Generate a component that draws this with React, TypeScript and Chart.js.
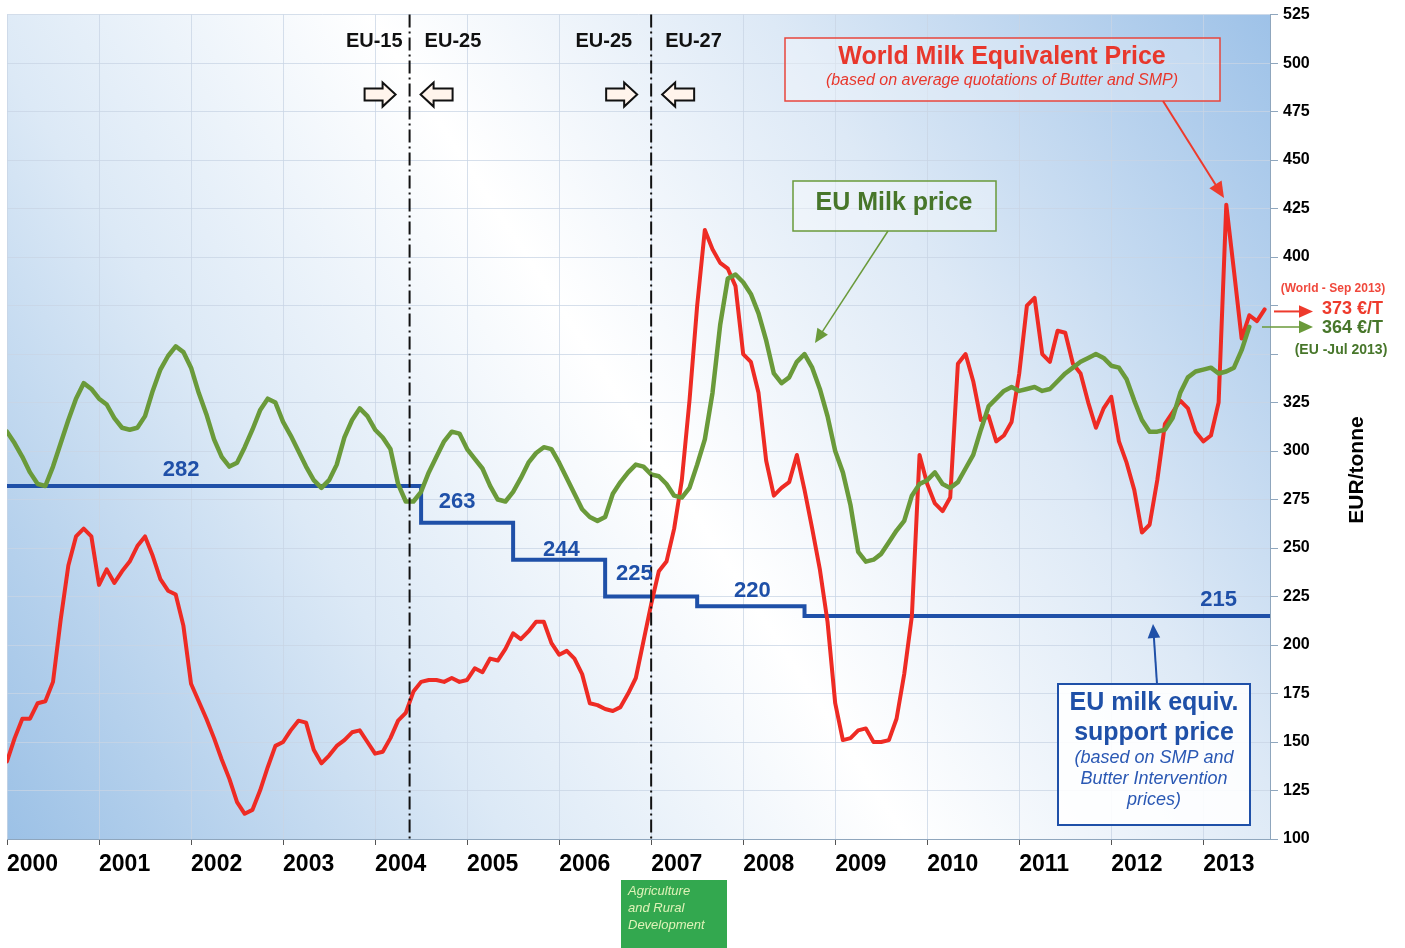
import React, { useEffect, useRef } from "react";
import { Chart, registerables } from "chart.js";

Chart.register(...registerables);

// ---------- DATA ----------
const YEARS = ["2000", "2001", "2002", "2003", "2004", "2005", "2006", "2007", "2008", "2009", "2010", "2011", "2012", "2013"];

// World Milk Equivalent Price, EUR/tonne, monthly from Jan 2000 to Sep 2013
const WORLD_PRICE = [
  140, 152, 162, 162, 170, 171, 181, 213, 241, 256, 260, 256,
  231, 239, 232, 238, 243, 251, 256, 246, 234, 228, 226, 210,
  180, 171, 162, 152, 141, 131, 119, 113, 115, 125, 137, 148,
  150, 156, 161, 160, 146, 139, 143, 148, 151, 155, 156, 150,
  144, 145, 152, 161, 165, 176, 181, 182, 182, 181, 183, 181,
  182, 188, 186, 193, 192, 198, 206, 203, 207, 212, 212, 201,
  195, 197, 193, 185, 170, 169, 167, 166, 168, 175, 183, 202,
  221, 238, 243, 260, 285, 326, 375, 414, 404, 397, 394, 385,
  350, 346, 330, 295, 277, 281, 284, 298, 280, 260, 239, 212,
  170, 151, 152, 156, 157, 150, 150, 151, 162, 185, 215, 298,
  283, 273, 269, 276, 345, 350, 336, 316, 318, 305, 308, 315,
  340, 375, 379, 350, 346, 362, 361, 345, 340, 325, 312, 322,
  328, 305, 294, 280, 258, 262, 285, 314, 320, 326, 322, 310,
  305, 308, 325, 427, 393, 358, 370, 367, 373,
];

// EU Milk price, EUR/tonne, monthly from Jan 2000 to Jul 2013
const EU_PRICE = [
  310, 304, 297, 289, 283, 282, 292, 304, 316, 327, 335, 332,
  327, 324, 317, 312, 311, 312, 318, 331, 342, 349, 354, 351,
  343, 330, 319, 306, 297, 292, 294, 302, 311, 321, 327, 325,
  315, 308, 300, 292, 285, 281, 285, 293, 307, 316, 322, 318,
  311, 307, 301, 283, 274, 274, 279, 289, 297, 305, 310, 309,
  301, 296, 291, 282, 275, 274, 279, 286, 294, 299, 302, 301,
  294, 286, 278, 270, 266, 264, 266, 278, 284, 289, 293, 292,
  288, 287, 283, 277, 276, 281, 293, 306, 330, 365, 389, 391,
  387, 381, 371, 357, 340, 335, 338, 346, 350, 343, 332, 318,
  300, 289, 272, 248, 243, 244, 247, 253, 259, 264, 277, 283,
  285, 289, 283, 281, 284, 291, 298, 311, 323, 327, 331, 333,
  331, 332, 333, 331, 332, 336, 340, 343, 346, 348, 350, 348,
  344, 343, 337, 326, 316, 310, 310, 311, 317, 330, 338, 341,
  342, 343, 340, 341, 343, 352, 364,
];

// EU milk equivalent support price: month index where each level starts
const SUPPORT_FROM_MONTH = [0, 54, 66, 78, 90, 104];
const SUPPORT_PRICE = [282, 263, 244, 225, 220, 215];

// EU enlargements (May 2004, Jan 2007), month index
const ENLARGEMENT_MONTH = [52.5, 84];
const ENLARGEMENT_LABELS = [
  ["EU-15", "EU-25"],
  ["EU-25", "EU-27"],
];

const Y_MIN = 100;
const Y_MAX = 525;
const Y_STEP = 25;
const Y_HIDDEN_TICKS = [350, 375];
const LAST_MONTH = 164.7;

// ---------- STYLE ----------
const FONT = 'Arial, "Liberation Sans", sans-serif';
const RED = "#ee2b24";
const GREEN = "#6a9a3a";
const DARK_GREEN = "#47762a";
const BLUE = "#1f50a8";

function pointer(ctx: CanvasRenderingContext2D, x1: number, y1: number, x2: number, y2: number, color: string, width: number, head: number) {
  const ang = Math.atan2(y2 - y1, x2 - x1);
  ctx.save();
  ctx.strokeStyle = color;
  ctx.fillStyle = color;
  ctx.lineWidth = width;
  ctx.beginPath();
  ctx.moveTo(x1, y1);
  ctx.lineTo(x2 - Math.cos(ang) * head * 0.8, y2 - Math.sin(ang) * head * 0.8);
  ctx.stroke();
  ctx.beginPath();
  ctx.moveTo(x2, y2);
  ctx.lineTo(x2 - Math.cos(ang) * head + Math.sin(ang) * head * 0.45, y2 - Math.sin(ang) * head - Math.cos(ang) * head * 0.45);
  ctx.lineTo(x2 - Math.cos(ang) * head - Math.sin(ang) * head * 0.45, y2 - Math.sin(ang) * head + Math.cos(ang) * head * 0.45);
  ctx.closePath();
  ctx.fill();
  ctx.restore();
}

function blockArrow(ctx: CanvasRenderingContext2D, x0: number, x1: number, yc: number, dir: number) {
  const headLen = 13;
  const sh = 6;
  const hh = 12;
  ctx.save();
  ctx.beginPath();
  if (dir > 0) {
    ctx.moveTo(x0, yc - sh);
    ctx.lineTo(x1 - headLen, yc - sh);
    ctx.lineTo(x1 - headLen, yc - hh);
    ctx.lineTo(x1, yc);
    ctx.lineTo(x1 - headLen, yc + hh);
    ctx.lineTo(x1 - headLen, yc + sh);
    ctx.lineTo(x0, yc + sh);
  } else {
    ctx.moveTo(x1, yc - sh);
    ctx.lineTo(x0 + headLen, yc - sh);
    ctx.lineTo(x0 + headLen, yc - hh);
    ctx.lineTo(x0, yc);
    ctx.lineTo(x0 + headLen, yc + hh);
    ctx.lineTo(x0 + headLen, yc + sh);
    ctx.lineTo(x1, yc + sh);
  }
  ctx.closePath();
  ctx.fillStyle = "#fff4ec";
  ctx.fill();
  ctx.strokeStyle = "#111";
  ctx.lineWidth = 2;
  ctx.lineJoin = "miter";
  ctx.stroke();
  ctx.restore();
}

const decor = {
  id: "decor",
  beforeDraw(chart: any) {
    const { ctx, chartArea: a } = chart;
    ctx.save();
    ctx.fillStyle = "#ffffff";
    ctx.fillRect(0, 0, chart.width, chart.height);
    const g = ctx.createLinearGradient(a.left, a.bottom, a.right, a.top);
    g.addColorStop(0, "#9cc1e6");
    g.addColorStop(0.28, "#dce9f6");
    g.addColorStop(0.5, "#ffffff");
    g.addColorStop(0.72, "#dde9f6");
    g.addColorStop(1, "#9ec2e8");
    ctx.fillStyle = g;
    ctx.fillRect(a.left, a.top, a.right - a.left, a.bottom - a.top);
    ctx.restore();
  },
  afterDatasetsDraw(chart: any) {
    const { ctx, chartArea: a } = chart;
    const xs = chart.scales.x;
    const ys = chart.scales.y;
    const X = (m: number) => xs.getPixelForValue(m);
    const Y = (v: number) => ys.getPixelForValue(v);
    ctx.save();

    // enlargement dash-dot lines, labels and arrows
    const labelOff = [[7, 15], [19, 14]];
    ENLARGEMENT_MONTH.forEach((m, i) => {
      const x = X(m);
      ctx.save();
      ctx.strokeStyle = "#111";
      ctx.lineWidth = 2;
      ctx.setLineDash([13, 4, 2, 4]);
      ctx.beginPath();
      ctx.moveTo(x, a.top);
      ctx.lineTo(x, a.bottom);
      ctx.stroke();
      ctx.restore();
      ctx.fillStyle = "#111";
      ctx.font = `bold 20px ${FONT}`;
      ctx.textBaseline = "middle";
      ctx.textAlign = "right";
      ctx.fillText(ENLARGEMENT_LABELS[i][0], x - labelOff[i][0], a.top + 27);
      ctx.textAlign = "left";
      ctx.fillText(ENLARGEMENT_LABELS[i][1], x + labelOff[i][1], a.top + 27);
      blockArrow(ctx, x - 45, x - 14, a.top + 80, 1);
      blockArrow(ctx, x + 11, x + 43, a.top + 80, -1);
    });

    // support price value labels
    const supLabelMonth = [22.7, 58.7, 72.3, 81.8, 97.2, 158];
    const supLabelRise = [16, 21, 10, 23, 15, 16];
    ctx.font = `bold 22px ${FONT}`;
    ctx.fillStyle = BLUE;
    ctx.textAlign = "center";
    ctx.textBaseline = "middle";
    SUPPORT_PRICE.forEach((v, i) => {
      ctx.fillText(String(v), X(supLabelMonth[i]), Y(v) - supLabelRise[i]);
    });

    // World Milk Equivalent Price box
    ctx.fillStyle = "rgba(255,255,255,0.3)";
    ctx.fillRect(785, 38, 435, 63);
    ctx.strokeStyle = "#e8453c";
    ctx.lineWidth = 1.5;
    ctx.strokeRect(785, 38, 435, 63);
    ctx.fillStyle = "#e8372c";
    ctx.textAlign = "center";
    ctx.font = `bold 25px ${FONT}`;
    ctx.fillText("World Milk Equivalent Price", 1002, 57);
    ctx.font = `italic 16px ${FONT}`;
    ctx.fillText("(based on average quotations of Butter and SMP)", 1002, 81);
    pointer(ctx, 1163, 101, 1224, 198, "#ee3a2c", 2, 16);

    // EU Milk price box
    ctx.fillStyle = "rgba(255,255,255,0.35)";
    ctx.fillRect(793, 181, 203, 50);
    ctx.strokeStyle = GREEN;
    ctx.lineWidth = 1.5;
    ctx.strokeRect(793, 181, 203, 50);
    ctx.fillStyle = DARK_GREEN;
    ctx.font = `bold 25px ${FONT}`;
    ctx.fillText("EU Milk price", 894, 203);
    pointer(ctx, 888, 231, 815, 343, GREEN, 1.5, 14);

    // Support price box
    ctx.fillStyle = "rgba(255,255,255,0.88)";
    ctx.fillRect(1058, 684, 192, 141);
    ctx.strokeStyle = BLUE;
    ctx.lineWidth = 2;
    ctx.strokeRect(1058, 684, 192, 141);
    pointer(ctx, 1157, 684, 1153, 624, BLUE, 2, 14);
    ctx.fillStyle = BLUE;
    ctx.font = `bold 25px ${FONT}`;
    ctx.fillText("EU milk equiv.", 1154, 703);
    ctx.fillText("support price", 1154, 733);
    ctx.fillStyle = "#2a58b4";
    ctx.font = `italic 18px ${FONT}`;
    ctx.fillText("(based on SMP and", 1154, 758);
    ctx.fillText("Butter Intervention", 1154, 779);
    ctx.fillText("prices)", 1154, 800);

    // latest values at right
    const wLast = WORLD_PRICE[WORLD_PRICE.length - 1];
    const eLast = EU_PRICE[EU_PRICE.length - 1];
    const yw = Y(wLast);
    const ye = Y(eLast);
    ctx.fillStyle = "#f0483c";
    ctx.font = `bold 12px ${FONT}`;
    ctx.fillText("(World - Sep 2013)", 1333, yw - 21);
    pointer(ctx, a.right + 4, yw + 2, a.right + 43, yw + 2, "#ee3a2c", 2, 14);
    pointer(ctx, a.right - 8, ye, a.right + 43, ye, GREEN, 1.5, 14);
    ctx.textAlign = "left";
    ctx.font = `bold 18px ${FONT}`;
    ctx.fillStyle = "#ee3a2c";
    ctx.fillText(`${wLast} €/T`, 1322, yw);
    ctx.fillStyle = DARK_GREEN;
    ctx.fillText(`${eLast} €/T`, 1322, ye + 1);
    ctx.textAlign = "center";
    ctx.font = `bold 14px ${FONT}`;
    ctx.fillText("(EU -Jul 2013)", 1341, ye + 23);

    // axis title
    ctx.save();
    ctx.translate(1357, 470);
    ctx.rotate(-Math.PI / 2);
    ctx.fillStyle = "#000";
    ctx.font = `bold 21px ${FONT}`;
    ctx.fillText("EUR/tonne", 0, 0);
    ctx.restore();

    // source badge
    ctx.fillStyle = "#33a84f";
    ctx.fillRect(621, 880, 106, 68);
    ctx.fillStyle = "#dff2b8";
    ctx.textAlign = "left";
    ctx.font = `italic 13px ${FONT}`;
    ctx.fillText("Agriculture", 628, 891);
    ctx.fillText("and Rural", 628, 908);
    ctx.fillText("Development", 628, 925);

    ctx.restore();
  },
};

export default function App() {
  const ref = useRef<HTMLCanvasElement>(null);
  useEffect(() => {
    const canvas = ref.current;
    if (!canvas) return;
    const supportData = SUPPORT_FROM_MONTH.map((m, i) => ({ x: m, y: SUPPORT_PRICE[i] }));
    supportData.push({ x: LAST_MONTH, y: SUPPORT_PRICE[SUPPORT_PRICE.length - 1] });
    const gridColor = "rgba(200,212,228,0.75)";
    const chart = new Chart(canvas, {
      type: "line",
      data: {
        datasets: [
          {
            label: "EU Milk price",
            data: EU_PRICE.map((v, i) => ({ x: i, y: v })),
            borderColor: GREEN,
            borderWidth: 4.5,
            pointRadius: 0,
            tension: 0,
            borderJoinStyle: "round",
            borderCapStyle: "round",
          },
          {
            label: "World Milk Equivalent Price",
            data: WORLD_PRICE.map((v, i) => ({ x: i, y: v })),
            borderColor: RED,
            borderWidth: 4,
            pointRadius: 0,
            tension: 0,
            borderJoinStyle: "round",
            borderCapStyle: "round",
          },
          {
            label: "EU milk equiv. support price",
            data: supportData,
            borderColor: BLUE,
            borderWidth: 4,
            pointRadius: 0,
            stepped: "before",
          },
        ],
      },
      options: {
        responsive: false,
        animation: false,
        layout: { padding: { left: 7, top: 14, right: 0, bottom: 0 } },
        plugins: { legend: { display: false }, tooltip: { enabled: false } },
        scales: {
          x: {
            type: "linear",
            min: 0,
            max: LAST_MONTH,
            afterBuildTicks: (axis: any) => {
              axis.ticks = YEARS.map((_, i) => ({ value: i * 12 }));
            },
            afterFit: (axis: any) => {
              axis.height = 109;
            },
            ticks: {
              autoSkip: false,
              maxRotation: 0,
              minRotation: 0,
              align: "start",
              padding: 6,
              color: "#000",
              font: { family: FONT, size: 23, weight: "bold" },
              callback: (_v: any, i: number) => YEARS[i],
            },
            grid: { color: gridColor, tickLength: 6, tickColor: "#555" },
            border: { color: "#8fa6bd", width: 1 },
          },
          y: {
            type: "linear",
            position: "right",
            min: Y_MIN,
            max: Y_MAX,
            afterFit: (axis: any) => {
              axis.width = 135;
            },
            ticks: {
              stepSize: Y_STEP,
              padding: 5,
              color: "#000",
              font: { family: FONT, size: 16, weight: "bold" },
              callback: (v: any) => (Y_HIDDEN_TICKS.includes(Number(v)) ? "" : String(v)),
            },
            grid: { color: gridColor, tickLength: 8, tickColor: "#8fa6bd" },
            border: { color: "#8fa6bd", width: 1 },
          },
        },
      },
      plugins: [decor],
    } as any);
    return () => chart.destroy();
  }, []);
  return (
    <div style={{ position: "absolute", left: 0, top: 0, width: 1405, height: 948 }}>
      <canvas ref={ref} width={1405} height={948} style={{ width: 1405, height: 948, display: "block" }} />
    </div>
  );
}
